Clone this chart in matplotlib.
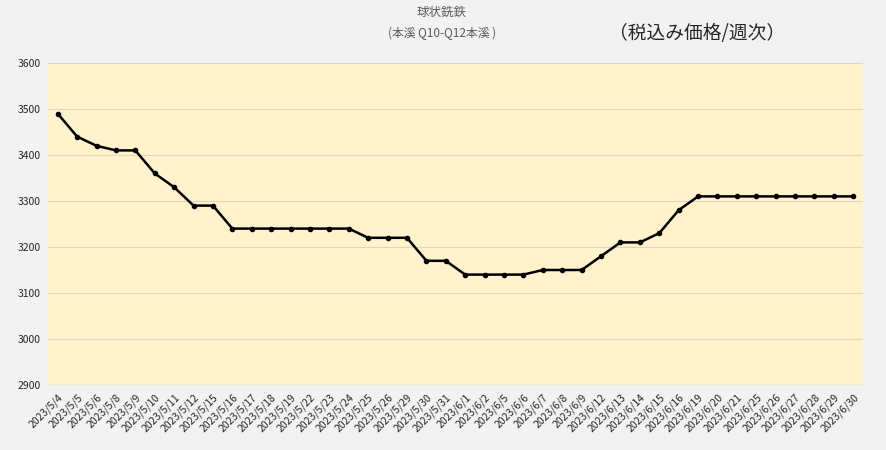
import matplotlib
matplotlib.use("Agg")
import matplotlib.pyplot as plt

plt.rcParams['font.family'] = ['Noto Sans CJK JP', 'DejaVu Sans']

dates = ["2023/5/4", "2023/5/5", "2023/5/6", "2023/5/8", "2023/5/9", "2023/5/10",
         "2023/5/11", "2023/5/12", "2023/5/15", "2023/5/16", "2023/5/17", "2023/5/18",
         "2023/5/19", "2023/5/22", "2023/5/23", "2023/5/24", "2023/5/25", "2023/5/26",
         "2023/5/29", "2023/5/30", "2023/5/31", "2023/6/1", "2023/6/2", "2023/6/5",
         "2023/6/6", "2023/6/7", "2023/6/8", "2023/6/9", "2023/6/12", "2023/6/13",
         "2023/6/14", "2023/6/15", "2023/6/16", "2023/6/19", "2023/6/20", "2023/6/21",
         "2023/6/25", "2023/6/26", "2023/6/27", "2023/6/28", "2023/6/29", "2023/6/30"]
prices = [3490, 3440, 3420, 3410, 3410, 3360, 3330, 3290, 3290,
          3240, 3240, 3240, 3240, 3240, 3240, 3240,
          3220, 3220, 3220, 3170, 3170,
          3140, 3140, 3140, 3140, 3150, 3150, 3150,
          3180, 3210, 3210, 3230, 3280,
          3310, 3310, 3310, 3310, 3310, 3310, 3310, 3310, 3310]
yticks = [2900, 3000, 3100, 3200, 3300, 3400, 3500, 3600]

fig = plt.figure(figsize=(8.86, 4.5), dpi=100, facecolor="#f2f2f2")
ax = fig.add_axes([48 / 886, 1 - 385 / 450, 815 / 886, 322 / 450])
ax.set_facecolor("#fff2cc")

x = list(range(len(dates)))
ax.plot(x, prices, color="black", lw=1.8, marker="o", ms=3, zorder=3)

ax.set_xlim(-0.5, len(dates) - 0.5)
ax.set_ylim(2900, 3600)
ax.set_yticks(yticks)
ax.set_yticklabels([str(v) for v in yticks], fontsize=7.5, color="#262626")
ax.set_xticks(x)
ax.set_xticklabels(dates, rotation=45, ha="right", rotation_mode="anchor",
                   fontsize=7.5, color="#262626")
ax.tick_params(axis="both", length=0, pad=5)
ax.grid(axis="y", color="#e0d6c0", lw=0.8)
ax.set_axisbelow(True)
for s in ax.spines.values():
    s.set_visible(False)
ax.axhline(2900, color="#d9d9d9", lw=1)

fig.text(442 / 886, 1 - 12 / 450, "球状銑鉄", ha="center", va="center",
         fontsize=9, color="#595959")
fig.text(442 / 886, 1 - 33 / 450, "(本溪 Q10-Q12本溪 )", ha="center", va="center",
         fontsize=8.5, color="#595959")
fig.text(697 / 886, 1 - 33 / 450, "（税込み価格/週次）", ha="center", va="center",
         fontsize=13.5, color="#262626")

fig.savefig("out.png", dpi=100, facecolor=fig.get_facecolor())
